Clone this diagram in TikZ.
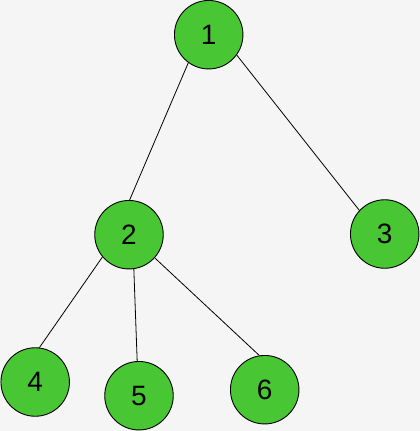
\documentclass[tikz,border=0pt]{standalone}
\usepackage{fontspec}
\setmainfont{Liberation Sans}
\definecolor{nodegreen}{RGB}{72,198,52}
\definecolor{bggray}{RGB}{245,245,245}
\begin{document}
\begin{tikzpicture}[x=1pt,y=-1pt,
  treenode/.style={circle,draw=black,line width=0.9pt,fill=nodegreen,
    minimum size=68.5pt,inner sep=0pt,font=\fontsize{28}{30}\selectfont},
  edge/.style={draw=black,line width=0.8pt}]
\fill[bggray] (0,0) rectangle (420,431);
\useasboundingbox (0,0) rectangle (420,431);
\node[treenode] (n1) at (208.7,34.7) {1};
\node[treenode] (n2) at (129,234.7) {2};
\node[treenode] (n3) at (384.7,234) {3};
\node[treenode] (n4) at (35.2,382) {4};
\node[treenode] (n5) at (139,395.7) {5};
\node[treenode] (n6) at (264.7,389.7) {6};
\draw[edge] (n1.234.8) -- (n2.89.5);
\draw[edge] (n1.324.3) -- (n3.137);
\draw[edge] (n2.220) -- (n4.83.7);
\draw[edge] (n2.278.7) -- (n5.93.3);
\draw[edge] (n2.318.8) -- (n6.99.8);
\end{tikzpicture}
\end{document}
